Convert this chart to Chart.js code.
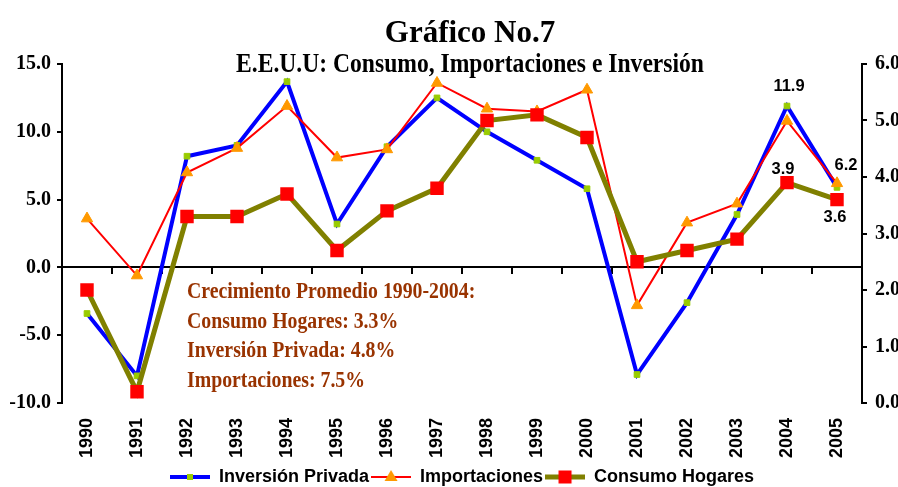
<!DOCTYPE html>
<html>
<head>
<meta charset="utf-8">
<script src="https://cdn.jsdelivr.net/npm/chart.js@4.4.1/dist/chart.umd.min.js"></script>
<style>html,body{margin:0;padding:0;background:#fff;overflow:hidden}</style>
</head>
<body>
<canvas id="c" width="898" height="487"></canvas>
<script>
// ---------- data ----------
const years = ['1990','1991','1992','1993','1994','1995','1996','1997','1998','1999','2000','2001','2002','2003','2004','2005'];
const inversionPrivada = [-3.4, -8.0, 8.2, 9.0, 13.7, 3.2, 8.9, 12.5, 10.0, 7.9, 5.8, -7.9, -2.6, 3.9, 11.9, 5.9];
const importaciones   = [3.6, -0.6, 7.0, 8.8, 11.9, 8.1, 8.7, 13.6, 11.7, 11.5, 13.1, -2.8, 3.3, 4.7, 10.8, 6.2];
const consumoHogares  = [2.0, 0.2, 3.3, 3.3, 3.7, 2.7, 3.4, 3.8, 5.0, 5.1, 4.7, 2.5, 2.7, 2.9, 3.9, 3.6];
const leftAxisTicks  = [-10, -5, 0, 5, 10, 15];
const rightAxisTicks = [0, 1, 2, 3, 4, 5, 6];
const seriesNames = ['Inversión Privada', 'Importaciones', 'Consumo Hogares'];
const titleText = 'Gráfico No.7';
const subtitleText = 'E.E.U.U: Consumo, Importaciones e Inversión';
const noteLines = ['Crecimiento Promedio 1990-2004:', 'Consumo Hogares: 3.3%', 'Inversión Privada: 4.8%', 'Importaciones: 7.5%'];
// points that carry a value label: [series, index]
const labelledPoints = [[0, 14], [1, 15], [2, 14], [2, 15]];

// ---------- styles ----------
const SERIF = '"Liberation Serif", "Times New Roman", serif';
const SANS = '"Liberation Sans", Arial, sans-serif';
const labelOffsets = [{dx: 2, dy: -15}, {dx: 9, dy: -13}, {dx: -4, dy: -8.5}, {dx: -2, dy: 22}];

function legendSample(kind) {
  const c = document.createElement('canvas');
  c.width = 40; c.height = 16;
  const g = c.getContext('2d');
  const cy = 8;
  if (kind === 0) {
    g.strokeStyle = '#0000FF'; g.lineWidth = 4;
    g.beginPath(); g.moveTo(0, cy); g.lineTo(40, cy); g.stroke();
    g.fillStyle = '#99CC00'; g.fillRect(17, cy - 3, 6, 6);
  } else if (kind === 1) {
    g.strokeStyle = '#FF0000'; g.lineWidth = 2;
    g.beginPath(); g.moveTo(0, cy); g.lineTo(40, cy); g.stroke();
    g.fillStyle = '#FF9900';
    g.beginPath(); g.moveTo(20, cy - 7); g.lineTo(26.5, cy + 4); g.lineTo(13.5, cy + 4); g.closePath(); g.fill();
  } else {
    g.strokeStyle = '#808000'; g.lineWidth = 5;
    g.beginPath(); g.moveTo(0, cy); g.lineTo(40, cy); g.stroke();
    g.fillStyle = '#FF0000'; g.fillRect(13.5, cy - 6.5, 13, 13);
  }
  return c;
}
const samples = [legendSample(0), legendSample(1), legendSample(2)];

function scaledText(ctx, text, x, y, sy) {
  ctx.save();
  ctx.translate(x, y);
  ctx.scale(1, sy);
  ctx.fillText(text, 0, 0);
  ctx.restore();
}

const decorPlugin = {
  id: 'decor',
  beforeDraw(chart) {
    const ctx = chart.ctx;
    ctx.save();
    ctx.fillStyle = '#fff';
    ctx.fillRect(0, 0, chart.width, chart.height);
    ctx.restore();
  },
  afterDraw(chart) {
    const ctx = chart.ctx;
    const ca = chart.chartArea;
    ctx.save();
    // titles
    const cx = (ca.left + ca.right) / 2 + 8;
    ctx.fillStyle = '#000';
    ctx.textAlign = 'center';
    ctx.textBaseline = 'alphabetic';
    ctx.font = 'bold 31px ' + SERIF;
    ctx.fillText(titleText, cx, 42);
    ctx.font = 'bold 23.6px ' + SERIF;
    scaledText(ctx, subtitleText, cx, 72, 1.18);
    // note
    const xs = chart.scales.x, ys = chart.scales.y;
    const nx = xs.getPixelForValue(2);
    const y0 = ys.getPixelForValue(0);
    ctx.textAlign = 'left';
    ctx.fillStyle = '#993300';
    ctx.font = 'bold 19.8px ' + SERIF;
    noteLines.forEach((t, i) => scaledText(ctx, t, nx, y0 + 31 + i * 29.5, 1.2));
    // value labels
    ctx.fillStyle = '#000';
    ctx.textAlign = 'center';
    ctx.font = 'bold 16.5px ' + SANS;
    labelledPoints.forEach(([s, i], k) => {
      const pt = chart.getDatasetMeta(s).data[i];
      const v = chart.data.datasets[s].data[i];
      const o = labelOffsets[k];
      ctx.fillText(v.toFixed(1), pt.x + o.dx, pt.y + o.dy);
    });
    ctx.restore();
  }
};

const tickFontSerif = {family: SERIF, size: 20, weight: 'bold'};

new Chart(document.getElementById('c'), {
  type: 'line',
  data: {
    labels: years,
    datasets: [
      {label: seriesNames[0], data: inversionPrivada, yAxisID: 'y', order: 3,
       borderColor: '#0000FF', borderWidth: 4, tension: 0,
       pointStyle: 'rect', pointRadius: 4, pointBackgroundColor: '#99CC00', pointBorderColor: '#99CC00', pointBorderWidth: 1},
      {label: seriesNames[1], data: importaciones, yAxisID: 'y', order: 2,
       borderColor: '#FF0000', borderWidth: 2, tension: 0,
       pointStyle: 'triangle', pointRadius: 6.5, pointBackgroundColor: '#FF9900', pointBorderColor: '#FF9900', pointBorderWidth: 1},
      {label: seriesNames[2], data: consumoHogares, yAxisID: 'y1', order: 1,
       borderColor: '#808000', borderWidth: 5, tension: 0,
       pointStyle: 'rect', pointRadius: 9.5, pointBackgroundColor: '#FF0000', pointBorderColor: '#FF0000', pointBorderWidth: 0}
    ]
  },
  options: {
    responsive: false,
    animation: false,
    events: [],
    layout: {padding: {left: 0, right: 0, top: 64, bottom: 1}},
    plugins: {
      title: {display: false},
      tooltip: {enabled: false},
      legend: {
        display: true,
        position: 'bottom',
        fullSize: false,
        maxHeight: 20,
        labels: {
          usePointStyle: true,
          pointStyleWidth: 40,
          padding: 2,
          color: '#000',
          font: {family: SANS, size: 18, weight: 'bold'},
          generateLabels(chart) {
            const items = Chart.defaults.plugins.legend.labels.generateLabels(chart);
            items.sort((a, b) => a.datasetIndex - b.datasetIndex);
            items.forEach(it => { it.pointStyle = samples[it.datasetIndex]; it.fontColor = '#000'; });
            return items;
          }
        }
      }
    },
    scales: {
      x: {
        type: 'category',
        position: 'bottom',
        offset: true,
        grid: {display: false, drawTicks: false},
        border: {display: false},
        ticks: {autoSkip: false, minRotation: 90, maxRotation: 90, padding: 15, color: '#000',
                font: {family: SANS, size: 18, weight: 'bold'}},
        afterFit(scale) { scale.height = 63; }
      },
      x2: {
        type: 'category',
        axis: 'x',
        position: {y: 0},
        offset: true,
        grid: {display: true, drawOnChartArea: false, drawTicks: true, tickLength: 6, offset: true, color: '#000', lineWidth: 2},
        border: {display: true, color: '#000', width: 2},
        ticks: {display: false}
      },
      y: {
        type: 'linear',
        position: 'left',
        min: -10, max: 15,
        afterBuildTicks(scale) { scale.ticks = leftAxisTicks.map(v => ({value: v})); },
        grid: {drawOnChartArea: false, drawTicks: true, tickLength: 5, color: '#000', lineWidth: 2},
        border: {display: true, color: '#000', width: 2},
        ticks: {padding: 6, color: '#000', font: tickFontSerif, callback: v => Number(v).toFixed(1)},
        afterFit(scale) { scale.width = 62; }
      },
      y1: {
        type: 'linear',
        position: 'right',
        min: 0, max: 6,
        afterBuildTicks(scale) { scale.ticks = rightAxisTicks.map(v => ({value: v})); },
        grid: {drawOnChartArea: false, drawTicks: true, tickLength: 5, color: '#000', lineWidth: 2},
        border: {display: true, color: '#000', width: 2},
        ticks: {padding: 8, color: '#000', font: tickFontSerif, callback: v => Number(v).toFixed(1)},
        afterFit(scale) { scale.width = 36; }
      }
    }
  },
  plugins: [decorPlugin]
});
</script>
</body>
</html>
